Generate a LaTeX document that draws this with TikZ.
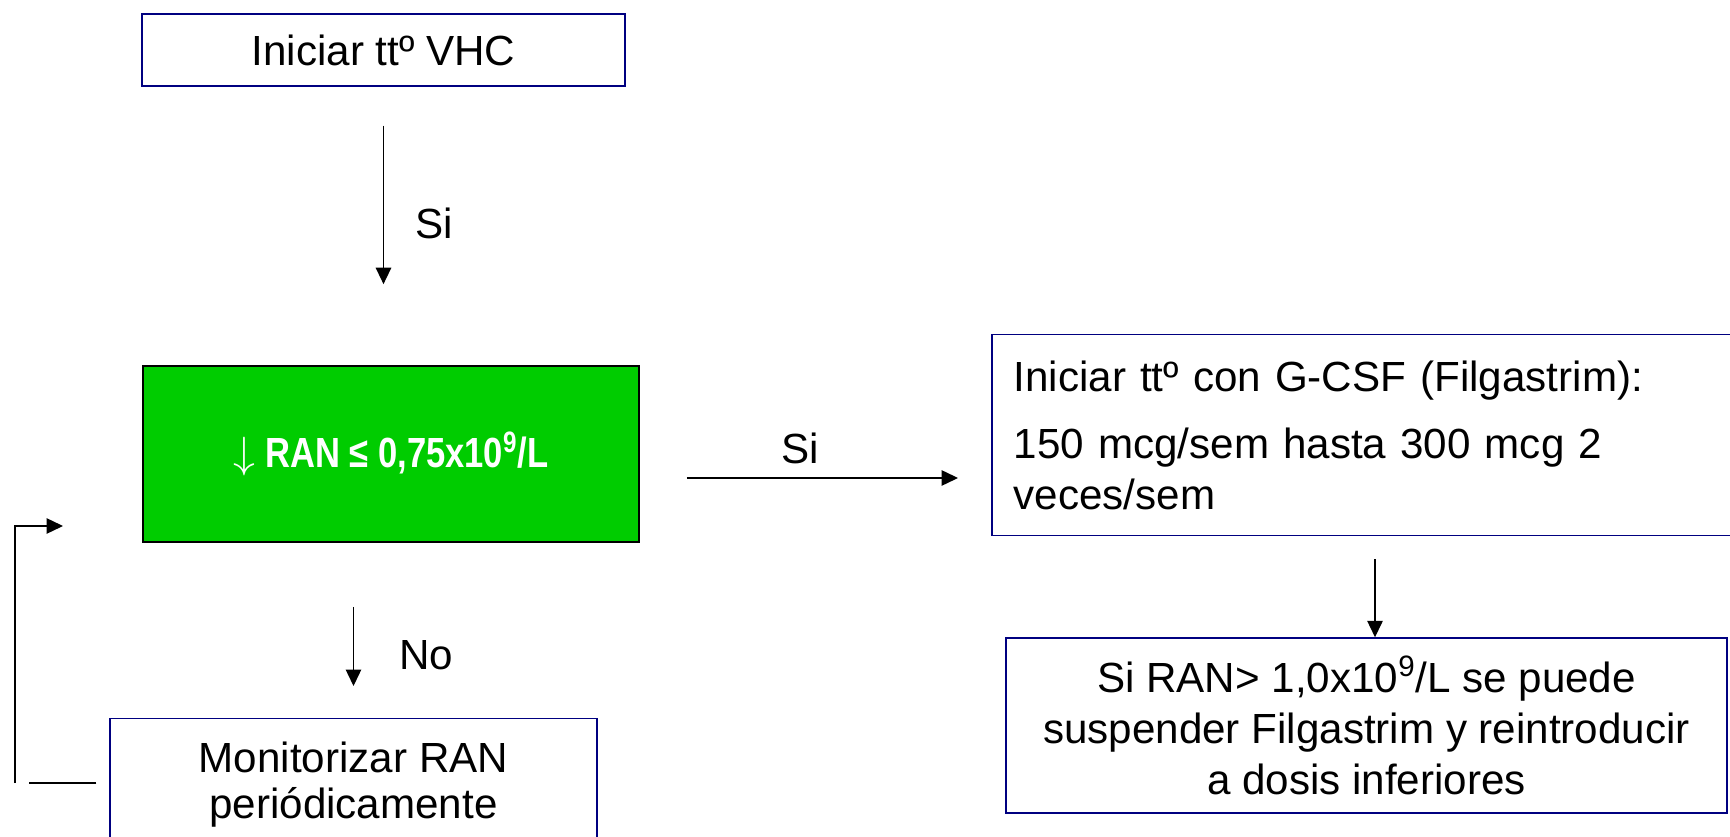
\documentclass[tikz,border=0pt]{standalone}
\usepackage{fontspec}
\setmainfont{Liberation Sans}
\newfontfamily\estrecha[FakeStretch=0.82]{Liberation Sans}
\usetikzlibrary{arrows.meta}
\definecolor{verdeRAN}{RGB}{0,204,0}
\definecolor{azulcaja}{RGB}{0,0,128}

\begin{document}
\begin{tikzpicture}[x=0.02cm,y=-0.02cm,line width=0.8pt,
    >={Triangle[length=0.33cm,width=0.31cm]},
    font=\fontsize{24}{29}\selectfont,
    caja/.style={draw=azulcaja,line width=0.85pt,inner sep=0pt},
    etiq/.style={inner sep=0pt}]
  \useasboundingbox (0,0) rectangle (1730,837);
  \clip (0,0) rectangle (1730,837);
  % cajas
  \node[caja,minimum width=9.66cm,minimum height=1.44cm] (inicio) at (383.5,50) {Iniciar ttº VHC};
  \node[draw=black,line width=1pt,fill=verdeRAN,text=white,minimum width=9.92cm,
        minimum height=3.52cm] (ran) at (391,454)
        {\estrecha\bfseries $\downarrow$ RAN ≤ 0,75x10\textsuperscript{9}/L};
  \node[caja,anchor=north,minimum width=9.74cm,inner ysep=0.46cm,align=center,
        font=\fontsize{24}{26.2}\selectfont] (monit) at (353.5,718)
        {Monitorizar RAN\\periódicamente};
  \node[caja,anchor=north west,minimum width=15.2cm,minimum height=4.02cm,inner xsep=0.44cm,
        text width=14.32cm,align=left] (filg) at (991,334)
        {Iniciar ttº con G-CSF (Filgastrim):\\[0.32cm]150 mcg/sem hasta 300 mcg 2\\veces/sem};
  \node[caja,minimum width=14.42cm,minimum height=3.5cm,align=center] (baja) at (1366.5,725.5)
        {Si RAN> 1,0x10\textsuperscript{9}/L se puede\\suspender Filgastrim y reintroducir\\a dosis inferiores};
  % flechas
  \draw[->,shorten <=0.78cm,shorten >=1.62cm] (inicio.south) -- (inicio.south |- ran.north);
  \node[etiq] (si1) at (434,223) {Si};
  \draw[->,shorten <=1.28cm,shorten >=0.64cm] (ran.south -| monit.north) -- (monit.north);
  \node[etiq] (no1) at (426,655) {No};
  \draw[->,shorten <=0.94cm,shorten >=0.66cm] ([yshift=-0.48cm]ran.east) -- ([yshift=-0.48cm]ran.east -| filg.west);
  \node[etiq] (si2) at (800,448) {Si};
  \draw[->,shorten <=0.46cm] ([xshift=0.17cm]baja.north |- filg.south) -- ([xshift=0.17cm]baja.north);
  % vuelta a la valoracion
  \coordinate (vuelta) at (15,783);
  \coordinate (entrada) at (63,526);
  \draw ([xshift=-0.26cm]monit.west |- vuelta) -- ++(-67,0);
  \draw[->] (vuelta) |- (entrada);
\end{tikzpicture}
\end{document}
